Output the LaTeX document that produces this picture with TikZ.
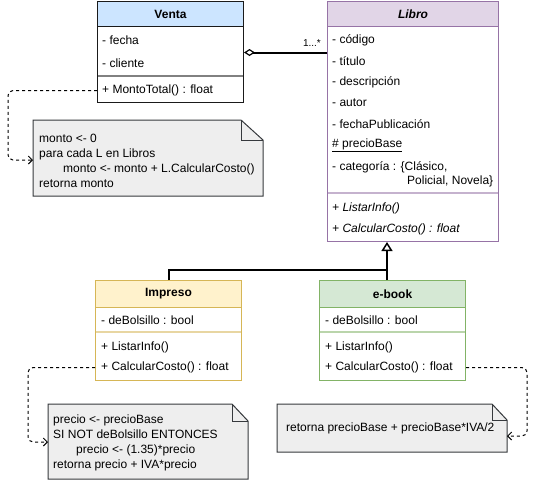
\documentclass[tikz,border=0pt]{standalone}
\usepackage{fontspec}
\setmainfont{Liberation Sans}
\usetikzlibrary{arrows.meta,backgrounds,calc}
\definecolor{vfill}{HTML}{CCE5FF}
\definecolor{vstroke}{HTML}{1A1A1A}
\definecolor{lfill}{HTML}{E1D5E7}
\definecolor{lstroke}{HTML}{9673A6}
\definecolor{ifill}{HTML}{FFF2CC}
\definecolor{istroke}{HTML}{D6B656}
\definecolor{efill}{HTML}{D5E8D4}
\definecolor{estroke}{HTML}{82B366}
\definecolor{nfill}{HTML}{EEEEEE}
\definecolor{nstroke}{HTML}{36393D}
\begin{document}
\begin{tikzpicture}[x=1pt,y=-1pt,
  font=\fontsize{12}{15.3}\selectfont,
  classbody/.style={draw, fill=white, line width=1pt, anchor=north west, inner sep=0pt},
  classhead/.style={draw, line width=1pt, anchor=north west, inner sep=0pt, font=\fontsize{12}{14}\selectfont\bfseries},
  row/.style={anchor=west, inner sep=0pt},
  divider/.style={line width=1.5pt, opacity=0.55},
  notetext/.style={anchor=west, inner sep=0pt, align=left, font=\fontsize{12}{15}\selectfont},
  notefold/.style={fill=nfill, draw=nstroke, line width=1pt},
  dep/.style={dashed, dash pattern=on 3pt off 3pt, line width=1pt, rounded corners=5pt, -{Straight Barb[length=4pt,width=8pt]}},
  assoc/.style={line width=2pt, {Diamond[open,length=11pt,width=7pt,line width=1.2pt]}-},
  inh/.style={line width=2pt, -{Triangle[open,length=9pt,width=11pt,line width=1.5pt]}},
  plain/.style={line width=2pt},
  mult/.style={inner sep=0pt, font=\fontsize{10}{11}\selectfont}
]
\begin{scope}[on background layer]
\fill[white] (0,0) rectangle (536,483);
\end{scope}
\useasboundingbox (0,0) rectangle (536,483);

% ---------- Venta ----------
\node[classbody, draw=vstroke, minimum width=146pt, minimum height=101pt] (venta) at (97,1) {};
\node[classhead, fill=vfill, draw=vstroke, minimum width=146pt, minimum height=25pt] (ventaH) at (97,1) {Venta};
\node[row] (vfecha) at (102,40) {- fecha};
\node[row] (vcliente) at (102,63) {- cliente};
\draw[divider, vstroke] (venta.west |- 0,76) -- (venta.east |- 0,76);
\node[row] (vmonto) at (102,90.5) {+ MontoTotal() : float};

% ---------- Libro ----------
\node[classbody, draw=lstroke, minimum width=171pt, minimum height=240pt] (libro) at (327,1) {};
\node[classhead, fill=lfill, draw=lstroke, minimum width=171pt, minimum height=25pt] (libroH) at (327,1) {\itshape Libro};
\node[row] (lcod) at (332,40) {- código};
\node[row] (ltit) at (332,61) {- título};
\node[row] (ldes) at (332,82) {- descripción};
\node[row] (laut) at (332,103) {- autor};
\node[row] (lfec) at (332,124) {- fechaPublicación};
\node[row] (lpre) at (332,145.5) {\underline{\# precioBase}};
\node[row] (lcat) at (332,167) {- categoría : \{Clásico,};
\node[row] (lcat2) at (407,181) {Policial, Novela\}};
\draw[divider, lstroke] (libro.west |- 0,193) -- (libro.east |- 0,193);
\node[row] (llis) at (332,208) {\itshape + ListarInfo()};
\node[row] (lcal) at (332,229) {\itshape + CalcularCosto() : float};

% ---------- Impreso ----------
\node[classbody, draw=istroke, minimum width=146pt, minimum height=100pt] (impreso) at (95,280) {};
\node[classhead, fill=ifill, draw=istroke, minimum width=146pt, minimum height=27pt] (impresoH) at (95,280) {Impreso};
\node[row] (ibol) at (101,320) {- deBolsillo : bool};
\draw[divider, istroke] (impreso.west |- 0,332) -- (impreso.east |- 0,332);
\node[row] (ilis) at (101,347) {+ ListarInfo()};
\node[row] (ical) at (101,367.5) {+ CalcularCosto() : float};

% ---------- e-book ----------
\node[classbody, draw=estroke, minimum width=146pt, minimum height=100pt] (ebook) at (319,280) {};
\node[classhead, fill=efill, draw=estroke, minimum width=146pt, minimum height=27pt] (ebookH) at (319,280) {e-book};
\node[row] (ebol) at (325,320) {- deBolsillo : bool};
\draw[divider, estroke] (ebook.west |- 0,332) -- (ebook.east |- 0,332);
\node[row] (elis) at (325,347) {+ ListarInfo()};
\node[row] (ecal) at (325,367.5) {+ CalcularCosto() : float};

% ---------- Notes ----------
\path[notefold] (33,120) -- (241,120) -- (263,140) -- (263,196) -- (33,196) -- cycle;
\draw[nstroke, line width=1pt] (241,120) -- (241,140) -- (263,140);
\coordinate (note1w) at (33,160);
\node[notetext] (note1) at (39,160.5)
  {monto <- 0\\para cada L en Libros\\\hspace*{24pt}monto <- monto + L.CalcularCosto()\\retorna monto};

\path[notefold] (48,404) -- (232,404) -- (248,421) -- (248,479) -- (48,479) -- cycle;
\draw[nstroke, line width=1pt] (232,404) -- (232,421) -- (248,421);
\coordinate (note2w) at (48,442);
\node[notetext] (note2) at (53,443)
  {precio <- precioBase\\SI NOT deBolsillo ENTONCES\\\hspace*{23pt}precio <- (1.35)*precio\\retorna precio + IVA*precio};

\path[notefold] (277,404) -- (492,404) -- (507,420) -- (507,452) -- (277,452) -- cycle;
\draw[nstroke, line width=1pt] (492,404) -- (492,420) -- (507,420);
\coordinate (note3e) at (507,436);
\node[notetext] (note3) at (286,428.5) {retorna precioBase + precioBase*IVA/2};

% ---------- Connectors ----------
\draw[assoc] (venta.east |- 0,52.5) -- (libro.west |- 0,52.5);
\node[mult, anchor=south east] (m1) at (321,47) {1...*};

\coordinate (jn) at (387,270);
\draw[inh] (ebook.north -| jn) -- (libro.south -| jn);
\draw[plain] (impreso.north) |- (jn);

\coordinate (c1) at (8,0);
\draw[dep] (venta.west |- vmonto) -| (c1 |- note1w) -- (note1w);
\coordinate (c2) at (28,0);
\draw[dep] (impreso.west |- ical) -| (c2 |- note2w) -- (note2w);
\coordinate (c3) at (527,0);
\draw[dep] (ebook.east |- ecal) -| (c3 |- note3e) -- (note3e);
\end{tikzpicture}
\end{document}
